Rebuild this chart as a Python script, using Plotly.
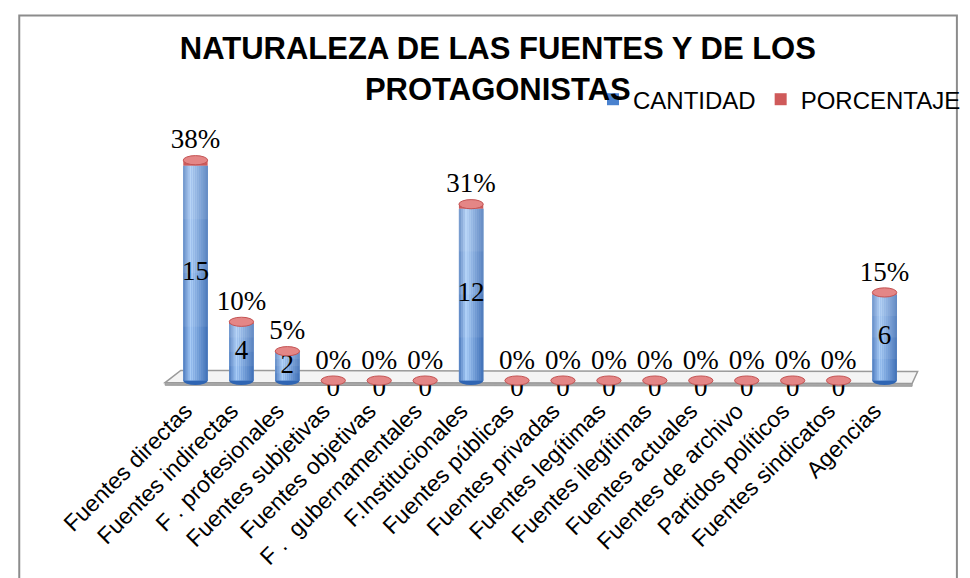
import plotly.graph_objects as go

categorias = ["Fuentes directas", "Fuentes indirectas", "F . profesionales", "Fuentes subjetivas",
              "Fuentes objetivas", "F .  gubernamentales", "F.Institucionales", "Fuentes públicas",
              "Fuentes privadas", "Fuentes legítimas", "Fuentes ilegítimas", "Fuentes actuales",
              "Fuentes de archivo", "Partidos políticos", "Fuentes sindicatos", "Agencias"]
cantidad = [15, 4, 2, 0, 0, 0, 12, 0, 0, 0, 0, 0, 0, 0, 0, 6]
porcentaje = [0.38, 0.10, 0.05, 0, 0, 0, 0.31, 0, 0, 0, 0, 0, 0, 0, 0, 0.15]

xs = list(range(len(categorias)))
ANCHO = 0.53
serif = "Liberation Serif"
sans = "Liberation Sans"

fig = go.Figure()

# base del cilindro (entra en la leyenda)
fig.add_trace(go.Bar(x=xs, y=cantidad, name="CANTIDAD", width=ANCHO,
                     marker=dict(color="#4a82cf", line_width=0), hoverinfo="skip"))

# franjas verticales para simular el sombreado del cilindro
n = 12
oscuro = (38, 88, 165)
claro = (170, 206, 248)
for i in range(n):
    t = (i + 0.5) / n
    s = 0.3 + 0.7 * t / 0.3 if t < 0.3 else 1 - 0.8 * (t - 0.3) / 0.7
    col = tuple(int(oscuro[k] + (claro[k] - oscuro[k]) * s) for k in range(3))
    fig.add_trace(go.Bar(x=xs, y=cantidad, width=ANCHO / n * 1.08,
                         offset=-ANCHO / 2 + i * ANCHO / n,
                         marker=dict(color="rgb(%d,%d,%d)" % col, line_width=0),
                         showlegend=False, hoverinfo="skip"))

# degradado vertical: la parte alta del cilindro algo más clara
for k in [0.25, 0.5, 0.75]:
    fig.add_trace(go.Bar(x=xs, y=[c * (1 - k) for c in cantidad], base=[c * k for c in cantidad],
                         width=ANCHO, marker=dict(color="rgba(255,255,255,0.07)", line_width=0),
                         showlegend=False, hoverinfo="skip"))

fig.add_trace(go.Bar(x=xs, y=porcentaje, base=cantidad, name="PORCENTAJE", width=ANCHO,
                     marker=dict(color="#cf5a5a", line_width=0), hoverinfo="skip"))

# etiquetas de cantidad (dentro de la barra)
fig.add_trace(go.Scatter(
    x=xs, y=[c / 2 if c > 0 else -0.6 for c in cantidad], mode="text",
    text=[str(c) for c in cantidad], textposition="middle center",
    textfont=dict(family=serif, size=27, color="black"),
    showlegend=False, hoverinfo="skip", cliponaxis=False))

# etiquetas de porcentaje (encima)
fig.add_trace(go.Scatter(
    x=xs, y=[c + p + 1.3 for c, p in zip(cantidad, porcentaje)], mode="text",
    text=["%d%%" % round(p * 100) for p in porcentaje], textposition="middle center",
    textfont=dict(family=serif, size=27, color="black"),
    showlegend=False, hoverinfo="skip", cliponaxis=False))

shapes = []
# suelo 3D
shapes.append(dict(type="path", xref="x", yref="y", layer="below",
                   path="M -0.32,0.70 L 15.72,0.63 L 15.6,-0.21 L -0.66,-0.14 Z",
                   fillcolor="#f4f4f4", line=dict(color="#9a9a9a", width=1.5)))
shapes.append(dict(type="path", xref="x", yref="y", layer="below",
                   path="M -0.66,-0.14 L 15.6,-0.21 L 15.6,-0.40 L -0.66,-0.33 Z",
                   fillcolor="#a8a8a8", line=dict(color="#9a9a9a", width=1)))
for x, c, p in zip(xs, cantidad, porcentaje):
    if c > 0:
        shapes.append(dict(type="circle", xref="x", yref="y", layer="below",
                           x0=x - ANCHO / 2, x1=x + ANCHO / 2, y0=-0.32, y1=0.32,
                           fillcolor="#2f65b3", line_width=0))
    top = c + p
    shapes.append(dict(type="circle", xref="x", yref="y", layer="above",
                       x0=x - ANCHO / 2, x1=x + ANCHO / 2, y0=top - 0.32, y1=top + 0.32,
                       fillcolor="#e48686", line=dict(color="#c45454", width=1)))
# marco del gráfico
shapes.append(dict(type="rect", xref="paper", yref="paper", x0=-0.187, x1=1.05, y0=-0.774, y1=1.476,
                   line=dict(color="#8c8c8c", width=2), fillcolor="rgba(0,0,0,0)", layer="below"))

fig.update_layout(
    width=970, height=578,
    barmode="overlay",
    margin=dict(l=152.75, r=41.75, t=129.4, b=193.5),
    paper_bgcolor="white", plot_bgcolor="rgba(0,0,0,0)",
    title=dict(text="NATURALEZA DE LAS FUENTES Y DE LOS<br>PROTAGONISTAS",
               x=0.505, xanchor="center", y=0.911, yanchor="top",
               font=dict(family=sans, size=31, color="black", weight="bold")),
    legend=dict(orientation="h", x=1.062, xanchor="right", y=1.1466, yanchor="middle",
                font=dict(family=sans, size=24, color="black"),
                bgcolor="rgba(0,0,0,0)", itemwidth=30, traceorder="normal"),
    xaxis=dict(range=[-0.75, 15.75], tickvals=xs, ticktext=categorias, tickangle=-45,
               showgrid=False, zeroline=False, showline=False, ticks="", automargin=False,
               ticklabelshift=-10,
               tickfont=dict(family=sans, size=23, color="black")),
    yaxis=dict(range=[-0.8, 17], visible=False, showgrid=False, zeroline=False, automargin=False),
    shapes=shapes,
    showlegend=True,
)

fig.write_html("out.html")
